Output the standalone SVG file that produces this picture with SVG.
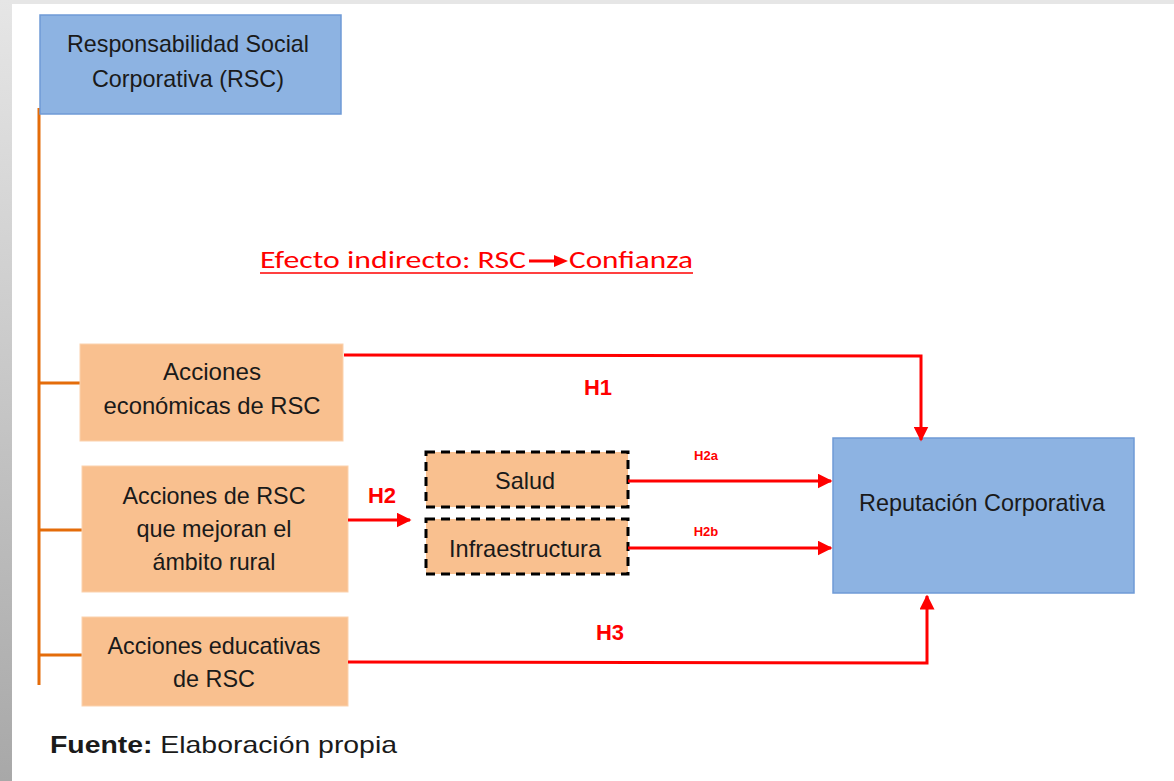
<svg xmlns="http://www.w3.org/2000/svg" width="1174" height="781" viewBox="0 0 1174 781">
  <defs>
    <linearGradient id="sideShade" x1="0" y1="0" x2="0" y2="1">
      <stop offset="0" stop-color="#e6e6e6"/>
      <stop offset="1" stop-color="#a8a8a8"/>
    </linearGradient>
    <marker id="arrowRed" viewBox="0 0 10 10" refX="9" refY="5" markerWidth="5" markerHeight="5" orient="auto" markerUnits="strokeWidth">
      <path d="M0,0 L10,5 L0,10 Z" fill="#ff0000"/>
    </marker>
    <style>
      .lbl { font-family: "Liberation Sans", Arial, sans-serif; font-size: 24px; fill: #1a1a1a; text-anchor: middle; }
      .hyp { font-family: "Liberation Sans", Arial, sans-serif; font-weight: bold; fill: #ff0000; text-anchor: middle; }
      .blue { fill: #8db3e2; stroke: #6f9ad6; stroke-width: 1.5; }
      .peach { fill: #f9c08f; stroke: #fbd2ad; stroke-width: 1; }
      .dash { fill: #f9c08f; stroke: #000; stroke-width: 3; stroke-dasharray: 9 6; }
      .branch { stroke: #e46c0a; stroke-width: 3; fill: none; }
      .link { stroke: #ff0000; stroke-width: 3; fill: none; marker-end: url(#arrowRed); }
    </style>
  </defs>

  <!-- page frame -->
  <rect x="0" y="0" width="1174" height="781" fill="#ffffff"/>
  <rect x="0" y="0" width="1174" height="4" fill="#e6e6e6"/>
  <rect x="0" y="0" width="12" height="781" fill="url(#sideShade)"/>

  <!-- tree of CSR action types -->
  <g id="tree" class="branch">
    <line x1="39" y1="108" x2="39" y2="685"/>
    <line x1="39" y1="383" x2="80" y2="383"/>
    <line x1="39" y1="530" x2="82" y2="530"/>
    <line x1="39" y1="655" x2="82" y2="655"/>
  </g>

  <g id="rsc">
    <rect class="blue" x="40" y="15" width="301" height="99"/>
    <text class="lbl" x="188" y="52" textLength="242" lengthAdjust="spacingAndGlyphs">Responsabilidad Social</text>
    <text class="lbl" x="188" y="87" textLength="192" lengthAdjust="spacingAndGlyphs">Corporativa (RSC)</text>
  </g>

  <g id="efecto">
    <text x="260" y="268" font-family="Carlito, 'Liberation Sans', sans-serif" font-size="24" fill="#ff0000" textLength="266" lengthAdjust="spacingAndGlyphs">Efecto indirecto: RSC</text>
    <line x1="529" y1="261" x2="556" y2="261" stroke="#ff0000" stroke-width="3"/>
    <path d="M554,255 L568,261 L554,267 Z" fill="#ff0000"/>
    <text x="569" y="268" font-family="Carlito, 'Liberation Sans', sans-serif" font-size="24" fill="#ff0000" textLength="124" lengthAdjust="spacingAndGlyphs">Confianza</text>
    <line x1="260" y1="273" x2="693" y2="273" stroke="#ff0000" stroke-width="1.5"/>
  </g>

  <g id="economicas">
    <rect class="peach" x="80" y="344" width="263" height="97"/>
    <text class="lbl" x="212" y="380" textLength="98" lengthAdjust="spacingAndGlyphs">Acciones</text>
    <text class="lbl" x="212" y="414" textLength="217" lengthAdjust="spacingAndGlyphs">económicas de RSC</text>
  </g>

  <g id="rural">
    <rect class="peach" x="82" y="466" width="266" height="126"/>
    <text class="lbl" x="214" y="504" textLength="183" lengthAdjust="spacingAndGlyphs">Acciones de RSC</text>
    <text class="lbl" x="214" y="537" textLength="155" lengthAdjust="spacingAndGlyphs">que mejoran el</text>
    <text class="lbl" x="214" y="570" textLength="123" lengthAdjust="spacingAndGlyphs">ámbito rural</text>
  </g>

  <g id="educativas">
    <rect class="peach" x="82" y="617" width="266" height="89"/>
    <text class="lbl" x="214" y="654" textLength="213" lengthAdjust="spacingAndGlyphs">Acciones educativas</text>
    <text class="lbl" x="214" y="687" textLength="82" lengthAdjust="spacingAndGlyphs">de RSC</text>
  </g>

  <g id="salud">
    <rect class="dash" x="426" y="452" width="202" height="55"/>
    <text class="lbl" x="525" y="489" textLength="60" lengthAdjust="spacingAndGlyphs">Salud</text>
  </g>

  <g id="infraestructura">
    <rect class="dash" x="426" y="519" width="202" height="55"/>
    <text class="lbl" x="525" y="557" textLength="152" lengthAdjust="spacingAndGlyphs">Infraestructura</text>
  </g>

  <g id="reputacion">
    <rect class="blue" x="833" y="438" width="301" height="155"/>
    <text class="lbl" x="982" y="511" textLength="246" lengthAdjust="spacingAndGlyphs">Reputación Corporativa</text>
  </g>

  <!-- hypothesis links -->
  <g id="connectors">
    <polyline class="link" points="344,355 921,356 921,440"/>
    <line class="link" x1="348" y1="520" x2="410" y2="520"/>
    <line class="link" x1="628" y1="481" x2="831" y2="481"/>
    <line class="link" x1="628" y1="548" x2="831" y2="548"/>
    <polyline class="link" points="348,662 927,663 927,596"/>
  </g>

  <g id="labels">
    <text class="hyp" x="598" y="395" font-size="22">H1</text>
    <text class="hyp" x="382" y="503" font-size="22">H2</text>
    <text class="hyp" x="706" y="460" font-size="13">H2a</text>
    <text class="hyp" x="706" y="536" font-size="13">H2b</text>
    <text class="hyp" x="610" y="640" font-size="22">H3</text>
  </g>

  <text x="50" y="753" font-family="'Liberation Sans', Arial, sans-serif" font-size="24" fill="#1a1a1a" textLength="347" lengthAdjust="spacingAndGlyphs"><tspan font-weight="bold">Fuente:</tspan> Elaboración propia</text>
</svg>
